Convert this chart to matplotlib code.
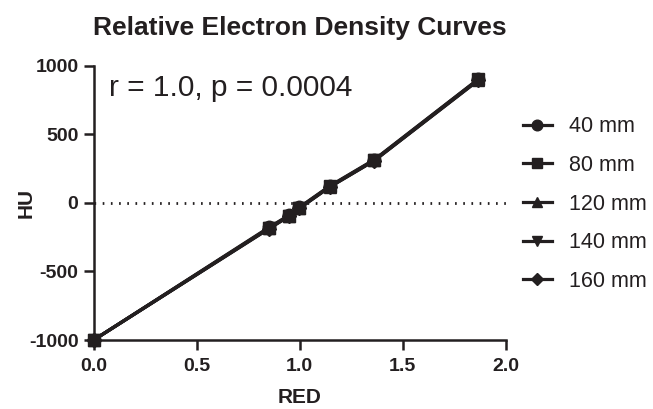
import matplotlib.pyplot as plt

plt.rcParams['font.family'] = ['Liberation Sans', 'DejaVu Sans']
plt.rcParams['axes.unicode_minus'] = False

# RED / HU values for each phantom size
sizes = ['40 mm', '80 mm', '120 mm', '140 mm', '160 mm']
markers = ['o', 's', '^', 'v', 'D']
red = {
    '40 mm':  [0.0, 0.852, 0.948, 0.998, 1.147, 1.362, 1.867],
    '80 mm':  [0.0, 0.852, 0.948, 0.998, 1.147, 1.362, 1.867],
    '120 mm': [0.0, 0.852, 0.948, 0.998, 1.147, 1.362, 1.867],
    '140 mm': [0.0, 0.852, 0.948, 0.998, 1.147, 1.362, 1.867],
    '160 mm': [0.0, 0.852, 0.948, 0.998, 1.147, 1.362, 1.867],
}
hu = {
    '40 mm':  [-1000, -178, -90, -33, 124, 315, 902],
    '80 mm':  [-1000, -182, -93, -36, 121, 312, 900],
    '120 mm': [-1000, -184, -95, -38, 119, 310, 897],
    '140 mm': [-1000, -186, -96, -39, 118, 309, 895],
    '160 mm': [-1000, -188, -98, -41, 116, 307, 893],
}
ink = '#231f20'

fig = plt.figure(figsize=(6.53, 4.09), dpi=100)
ax = fig.add_axes([0.1435, 0.1687, 0.6309, 0.6707])

ax.axhline(0, color=ink, lw=2, ls=(0, (0.6, 2.35)), zorder=1)

msize = {'o': 9, 's': 9, '^': 9, 'v': 9, 'D': 7}
order = ['40 mm', '120 mm', '140 mm', '160 mm', '80 mm']
for name in order:
    m = markers[sizes.index(name)]
    ax.plot(red[name], hu[name], color=ink, lw=2.3, marker=m, ms=msize[m],
            clip_on=False, zorder=3, label=name)

ax.set_xlim(0, 2.0)
ax.set_ylim(-1000, 1000)
ax.set_xticks([0.0, 0.5, 1.0, 1.5, 2.0])
ax.set_xticklabels(['0.0', '0.5', '1.0', '1.5', '2.0'])
ax.set_yticks([-1000, -500, 0, 500, 1000])

for s in ['top', 'right']:
    ax.spines[s].set_visible(False)
for s in ['left', 'bottom']:
    ax.spines[s].set_linewidth(1.8)
    ax.spines[s].set_color(ink)
ax.tick_params(axis='both', length=7, width=1.8, color=ink, labelsize=14,
               labelcolor=ink)
ax.tick_params(axis='x', pad=6)
ax.tick_params(axis='y', pad=4)
for lab in ax.get_xticklabels() + ax.get_yticklabels():
    lab.set_fontweight('bold')

ax.set_xlabel('RED', fontsize=15, fontweight='bold', color=ink)
ax.xaxis.set_label_coords(0.5, -0.176)
ax.set_ylabel('HU', fontsize=15, fontweight='bold', color=ink)
ax.yaxis.set_label_coords(-0.14, 0.5)
ax.set_title('Relative Electron Density Curves', fontsize=19,
             fontweight='bold', color=ink, pad=22)

ax.text(0.036, 0.92, 'r = 1.0, p = 0.0004', transform=ax.transAxes,
        fontsize=21.5, color=ink, va='center', ha='left')

handles, labels = ax.get_legend_handles_labels()
by_name = dict(zip(labels, handles))
fig.legend([by_name[n] for n in sizes], sizes, loc='upper left',
           bbox_to_anchor=(0.771, 0.763), frameon=False, fontsize=15.5,
           handlelength=1.35, handletextpad=0.8, labelspacing=0.82,
           markerscale=0.85, labelcolor=ink)

fig.savefig('out.png', dpi=100)
